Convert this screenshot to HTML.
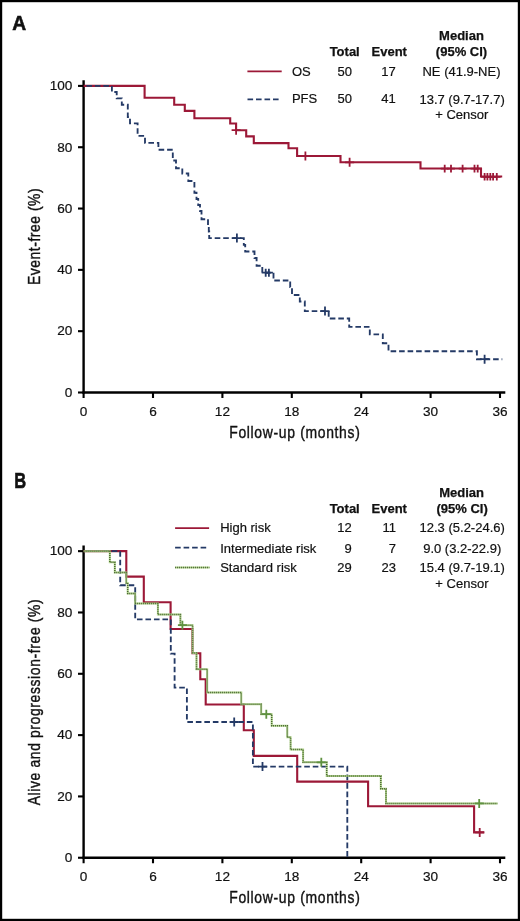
<!DOCTYPE html>
<html><head><meta charset="utf-8"><style>
html,body{margin:0;padding:0;background:#fff;}
svg{display:block;filter:blur(0.35px);}
text{font-family:"Liberation Sans",sans-serif;stroke:#111;stroke-width:0.2px;}
text[font-weight="bold"]{stroke-width:0.25px;}
text.ax{stroke-width:0.4px;}
text.pl{stroke-width:0.6px;}
</style></head><body>
<svg width="520" height="921" viewBox="0 0 520 921">
<rect width="520" height="921" fill="#fff"/>
<rect x="1.1" y="1.1" width="517.8" height="918.8" fill="none" stroke="#000" stroke-width="2.2"/>
<text class="pl" transform="matrix(0.9385 0 0 1 12.30 29.80)" x="0" y="0" font-size="20.5" font-weight="bold" fill="#111">A</text>
<text x="439.11" y="40.00" font-size="13" font-weight="bold" fill="#111" >Median</text>
<text x="435.86" y="55.80" font-size="13" font-weight="bold" fill="#111" >(95% CI)</text>
<text x="329.65" y="55.80" font-size="13" font-weight="bold" fill="#111" >Total</text>
<text x="371.50" y="55.80" font-size="13" font-weight="bold" fill="#111" >Event</text>
<line x1="247.40" y1="71.40" x2="281.70" y2="71.40" stroke="#9c1837" stroke-width="1.8" />
<line x1="247.50" y1="99.30" x2="279.50" y2="99.30" stroke="#243a66" stroke-width="1.7" stroke-dasharray="5.6 2.9"/>
<text x="291.90" y="75.70" font-size="13" font-weight="normal" fill="#111" >OS</text>
<text x="291.90" y="103.40" font-size="13" font-weight="normal" fill="#111" >PFS</text>
<text x="337.44" y="75.70" font-size="13" font-weight="normal" fill="#111" >50</text>
<text x="337.44" y="103.40" font-size="13" font-weight="normal" fill="#111" >50</text>
<text x="381.34" y="75.70" font-size="13" font-weight="normal" fill="#111" >17</text>
<text x="381.34" y="103.40" font-size="13" font-weight="normal" fill="#111" >41</text>
<text x="422.48" y="75.80" font-size="13" font-weight="normal" fill="#111" >NE (41.9-NE)</text>
<text x="419.46" y="103.80" font-size="13" font-weight="normal" fill="#111" >13.7 (9.7-17.7)</text>
<text x="435.20" y="118.70" font-size="13" font-weight="normal" fill="#111" >+ Censor</text>
<line x1="83.60" y1="80.20" x2="83.60" y2="393.60" stroke="#000" stroke-width="2.4" />
<line x1="82.50" y1="392.50" x2="505.30" y2="392.50" stroke="#000" stroke-width="2.4" />
<line x1="78.00" y1="392.50" x2="83.60" y2="392.50" stroke="#000" stroke-width="2.1" />
<text x="64.85" y="396.80" font-size="13.6" font-weight="normal" fill="#111" >0</text>
<line x1="78.00" y1="331.18" x2="83.60" y2="331.18" stroke="#000" stroke-width="2.1" />
<text x="57.27" y="335.48" font-size="13.6" font-weight="normal" fill="#111" >20</text>
<line x1="78.00" y1="269.86" x2="83.60" y2="269.86" stroke="#000" stroke-width="2.1" />
<text x="57.27" y="274.16" font-size="13.6" font-weight="normal" fill="#111" >40</text>
<line x1="78.00" y1="208.54" x2="83.60" y2="208.54" stroke="#000" stroke-width="2.1" />
<text x="57.27" y="212.84" font-size="13.6" font-weight="normal" fill="#111" >60</text>
<line x1="78.00" y1="147.22" x2="83.60" y2="147.22" stroke="#000" stroke-width="2.1" />
<text x="57.27" y="151.52" font-size="13.6" font-weight="normal" fill="#111" >80</text>
<line x1="78.00" y1="85.90" x2="83.60" y2="85.90" stroke="#000" stroke-width="2.1" />
<text x="49.72" y="90.20" font-size="13.6" font-weight="normal" fill="#111" >100</text>
<line x1="83.60" y1="392.50" x2="83.60" y2="398.00" stroke="#000" stroke-width="2.1" />
<text x="79.83" y="415.80" font-size="13.6" font-weight="normal" fill="#111" >0</text>
<line x1="153.00" y1="392.50" x2="153.00" y2="398.00" stroke="#000" stroke-width="2.1" />
<text x="149.23" y="415.80" font-size="13.6" font-weight="normal" fill="#111" >6</text>
<line x1="222.40" y1="392.50" x2="222.40" y2="398.00" stroke="#000" stroke-width="2.1" />
<text x="214.84" y="415.80" font-size="13.6" font-weight="normal" fill="#111" >12</text>
<line x1="291.80" y1="392.50" x2="291.80" y2="398.00" stroke="#000" stroke-width="2.1" />
<text x="284.24" y="415.80" font-size="13.6" font-weight="normal" fill="#111" >18</text>
<line x1="361.20" y1="392.50" x2="361.20" y2="398.00" stroke="#000" stroke-width="2.1" />
<text x="353.64" y="415.80" font-size="13.6" font-weight="normal" fill="#111" >24</text>
<line x1="430.60" y1="392.50" x2="430.60" y2="398.00" stroke="#000" stroke-width="2.1" />
<text x="423.04" y="415.80" font-size="13.6" font-weight="normal" fill="#111" >30</text>
<line x1="500.00" y1="392.50" x2="500.00" y2="398.00" stroke="#000" stroke-width="2.1" />
<text x="492.44" y="415.80" font-size="13.6" font-weight="normal" fill="#111" >36</text>
<text class="ax" transform="matrix(0.82 0 0 1 229.20 438.00)" x="0" y="0" font-size="17.0" letter-spacing="0.818" fill="#111">Follow-up (months)</text>
<g transform="translate(40.00,285.00) rotate(-90)"><text class="ax" transform="matrix(0.82 0 0 1 -0.00 0)" x="0" y="0" font-size="17.0" letter-spacing="0.640" fill="#111">Event-free (%)</text></g>
<path d="M83.60,85.90 H144.60 V97.80 H174.20 V104.70 H184.80 V110.90 H194.40 V118.20 H230.20 V123.50 H236.10 V130.20 H246.20 V136.40 H253.80 V143.10 H288.50 V148.30 H297.10 V156.00 H340.50 V162.30 H420.50 V168.50 H481.00 V176.50 H502.20" fill="none" stroke="#9c1837" stroke-width="2.1" stroke-linejoin="miter" stroke-linecap="butt" />
<path d="M83.60,85.90 H111.90 V92.00 H116.70 V98.30 H121.80 V104.70 H127.80 V117.00 H130.00 V123.40 H137.60 V135.80 H145.00 V142.90 H158.40 V149.70 H172.80 V160.50 H176.00 V168.20 H182.30 V173.50 H188.30 V181.00 H194.40 V192.70 H196.50 V199.00 H198.20 V205.00 H200.00 V211.00 H201.50 V219.20 H208.00 V225.50 H208.80 V231.50 H209.20 V238.10 H243.80 V244.80 H245.20 V251.50 H254.50 V258.00 H256.60 V265.70 H262.30 V272.70 H273.50 V280.50 H290.20 V287.00 H292.00 V295.00 H299.80 V301.50 H304.80 V311.10 H328.70 V318.50 H349.20 V326.90 H369.80 V334.30 H382.80 V343.20 H388.50 V351.20 H476.90 V359.20 H502.30" fill="none" stroke="#243a66" stroke-width="1.85" stroke-linejoin="miter" stroke-linecap="butt" stroke-dasharray="5.6 2.9" stroke-dashoffset="5.70"/>
<path d="M231.60,130.20 H240.60 M236.10,125.70 V134.70" stroke="#9c1837" stroke-width="1.8" fill="none"/>
<path d="M300.90,156.00 H309.90 M305.40,151.50 V160.50" stroke="#9c1837" stroke-width="1.8" fill="none"/>
<path d="M345.10,162.30 H354.10 M349.60,157.80 V166.80" stroke="#9c1837" stroke-width="1.8" fill="none"/>
<path d="M440.80,168.60 H448.60 M444.70,164.70 V172.50" stroke="#9c1837" stroke-width="1.8" fill="none"/>
<path d="M447.10,168.60 H454.90 M451.00,164.70 V172.50" stroke="#9c1837" stroke-width="1.8" fill="none"/>
<path d="M458.70,168.60 H466.50 M462.60,164.70 V172.50" stroke="#9c1837" stroke-width="1.8" fill="none"/>
<path d="M470.60,168.60 H478.40 M474.50,164.70 V172.50" stroke="#9c1837" stroke-width="1.8" fill="none"/>
<path d="M473.80,168.60 H481.60 M477.70,164.70 V172.50" stroke="#9c1837" stroke-width="1.8" fill="none"/>
<path d="M480.80,176.80 H488.40 M484.60,173.00 V180.60" stroke="#9c1837" stroke-width="1.8" fill="none"/>
<path d="M483.60,176.80 H491.20 M487.40,173.00 V180.60" stroke="#9c1837" stroke-width="1.8" fill="none"/>
<path d="M486.50,176.80 H494.10 M490.30,173.00 V180.60" stroke="#9c1837" stroke-width="1.8" fill="none"/>
<path d="M489.30,176.80 H496.90 M493.10,173.00 V180.60" stroke="#9c1837" stroke-width="1.8" fill="none"/>
<path d="M493.00,176.80 H500.60 M496.80,173.00 V180.60" stroke="#9c1837" stroke-width="1.8" fill="none"/>
<path d="M232.40,238.10 H241.40 M236.90,233.60 V242.60" stroke="#243a66" stroke-width="1.8" fill="none"/>
<path d="M261.70,272.70 H269.70 M265.70,268.70 V276.70" stroke="#243a66" stroke-width="1.8" fill="none"/>
<path d="M264.90,272.70 H272.90 M268.90,268.70 V276.70" stroke="#243a66" stroke-width="1.8" fill="none"/>
<path d="M320.50,311.10 H329.50 M325.00,306.60 V315.60" stroke="#243a66" stroke-width="1.8" fill="none"/>
<path d="M480.10,359.20 H489.10 M484.60,354.70 V363.70" stroke="#243a66" stroke-width="1.8" fill="none"/>
<text class="pl" transform="matrix(0.7661 0 0 1 14.30 487.70)" x="0" y="0" font-size="21.5" font-weight="bold" fill="#111">B</text>
<text x="439.21" y="497.30" font-size="13" font-weight="bold" fill="#111" >Median</text>
<text x="436.46" y="513.30" font-size="13" font-weight="bold" fill="#111" >(95% CI)</text>
<text x="329.65" y="513.30" font-size="13" font-weight="bold" fill="#111" >Total</text>
<text x="371.50" y="513.30" font-size="13" font-weight="bold" fill="#111" >Event</text>
<line x1="175.10" y1="528.20" x2="209.10" y2="528.20" stroke="#9c1837" stroke-width="1.8" />
<line x1="175.10" y1="547.70" x2="206.80" y2="547.70" stroke="#243a66" stroke-width="1.7" stroke-dasharray="5.6 2.9"/>
<line x1="175.10" y1="567.40" x2="209.50" y2="567.40" stroke="#b0d68a" stroke-width="2.0" />
<line x1="175.10" y1="567.40" x2="209.50" y2="567.40" stroke="#4d6438" stroke-width="1.5" stroke-dasharray="1 1"/>
<text x="220.20" y="532.40" font-size="13" font-weight="normal" fill="#111" >High risk</text>
<text x="337.24" y="532.40" font-size="13" font-weight="normal" fill="#111" >12</text>
<text x="382.51" y="532.40" font-size="13" font-weight="normal" fill="#111" >11</text>
<text x="419.56" y="532.40" font-size="13" font-weight="normal" fill="#111" >12.3 (5.2-24.6)</text>
<text x="220.20" y="552.60" font-size="13" font-weight="normal" fill="#111" >Intermediate risk</text>
<text x="344.49" y="552.60" font-size="13" font-weight="normal" fill="#111" >9</text>
<text x="388.79" y="552.60" font-size="13" font-weight="normal" fill="#111" >7</text>
<text x="423.18" y="552.60" font-size="13" font-weight="normal" fill="#111" >9.0 (3.2-22.9)</text>
<text x="220.20" y="571.90" font-size="13" font-weight="normal" fill="#111" >Standard risk</text>
<text x="337.24" y="571.90" font-size="13" font-weight="normal" fill="#111" >29</text>
<text x="381.54" y="571.90" font-size="13" font-weight="normal" fill="#111" >23</text>
<text x="419.56" y="571.90" font-size="13" font-weight="normal" fill="#111" >15.4 (9.7-19.1)</text>
<text x="435.35" y="587.70" font-size="13" font-weight="normal" fill="#111" >+ Censor</text>
<line x1="83.60" y1="545.45" x2="83.60" y2="858.85" stroke="#000" stroke-width="2.4" />
<line x1="82.50" y1="857.75" x2="505.30" y2="857.75" stroke="#000" stroke-width="2.4" />
<line x1="78.00" y1="857.75" x2="83.60" y2="857.75" stroke="#000" stroke-width="2.1" />
<text x="64.85" y="862.05" font-size="13.6" font-weight="normal" fill="#111" >0</text>
<line x1="78.00" y1="796.43" x2="83.60" y2="796.43" stroke="#000" stroke-width="2.1" />
<text x="57.27" y="800.73" font-size="13.6" font-weight="normal" fill="#111" >20</text>
<line x1="78.00" y1="735.11" x2="83.60" y2="735.11" stroke="#000" stroke-width="2.1" />
<text x="57.27" y="739.41" font-size="13.6" font-weight="normal" fill="#111" >40</text>
<line x1="78.00" y1="673.79" x2="83.60" y2="673.79" stroke="#000" stroke-width="2.1" />
<text x="57.27" y="678.09" font-size="13.6" font-weight="normal" fill="#111" >60</text>
<line x1="78.00" y1="612.47" x2="83.60" y2="612.47" stroke="#000" stroke-width="2.1" />
<text x="57.27" y="616.77" font-size="13.6" font-weight="normal" fill="#111" >80</text>
<line x1="78.00" y1="551.15" x2="83.60" y2="551.15" stroke="#000" stroke-width="2.1" />
<text x="49.72" y="555.45" font-size="13.6" font-weight="normal" fill="#111" >100</text>
<line x1="83.60" y1="857.75" x2="83.60" y2="863.25" stroke="#000" stroke-width="2.1" />
<text x="79.83" y="881.05" font-size="13.6" font-weight="normal" fill="#111" >0</text>
<line x1="153.00" y1="857.75" x2="153.00" y2="863.25" stroke="#000" stroke-width="2.1" />
<text x="149.23" y="881.05" font-size="13.6" font-weight="normal" fill="#111" >6</text>
<line x1="222.40" y1="857.75" x2="222.40" y2="863.25" stroke="#000" stroke-width="2.1" />
<text x="214.84" y="881.05" font-size="13.6" font-weight="normal" fill="#111" >12</text>
<line x1="291.80" y1="857.75" x2="291.80" y2="863.25" stroke="#000" stroke-width="2.1" />
<text x="284.24" y="881.05" font-size="13.6" font-weight="normal" fill="#111" >18</text>
<line x1="361.20" y1="857.75" x2="361.20" y2="863.25" stroke="#000" stroke-width="2.1" />
<text x="353.64" y="881.05" font-size="13.6" font-weight="normal" fill="#111" >24</text>
<line x1="430.60" y1="857.75" x2="430.60" y2="863.25" stroke="#000" stroke-width="2.1" />
<text x="423.04" y="881.05" font-size="13.6" font-weight="normal" fill="#111" >30</text>
<line x1="500.00" y1="857.75" x2="500.00" y2="863.25" stroke="#000" stroke-width="2.1" />
<text x="492.44" y="881.05" font-size="13.6" font-weight="normal" fill="#111" >36</text>
<text class="ax" transform="matrix(0.82 0 0 1 229.20 903.25)" x="0" y="0" font-size="17.0" letter-spacing="0.818" fill="#111">Follow-up (months)</text>
<g transform="translate(40.00,805.30) rotate(-90)"><text class="ax" transform="matrix(0.82 0 0 1 -0.00 0)" x="0" y="0" font-size="17.0" letter-spacing="0.749" fill="#111">Alive and progression-free (%)</text></g>
<path d="M83.60,551.15 H126.30 V576.60 H143.80 V602.20 H170.60 V629.00 H192.40 V653.20 H200.30 V679.30 H205.70 V704.50 H243.80 V730.30 H253.80 V755.90 H297.20 V781.60 H368.10 V806.30 H474.10 V832.40 H484.30" fill="none" stroke="#9c1837" stroke-width="2.1" stroke-linejoin="miter" stroke-linecap="butt" />
<path d="M83.60,551.15 H120.20 V585.20 H135.20 V619.40 H170.80 V653.60 H174.60 V687.60 H186.90 V722.00 H252.90 V766.60 H347.30 V857.75 H347.30" fill="none" stroke="#243a66" stroke-width="1.85" stroke-linejoin="miter" stroke-linecap="butt" stroke-dasharray="5.6 2.9" stroke-dashoffset="5.90"/>
<path d="M83.60,551.15 H109.80 V562.20 H114.80 V572.50 H126.30 V583.00 H127.70 V593.50 H135.20 V603.60 H157.90 V614.50 H180.40 V625.20 H192.60 V653.00 H196.50 V669.20 H207.20 V692.60 H241.30 V704.20 H261.20 V714.20 H271.70 V725.80 H287.30 V737.30 H290.60 V749.60 H303.10 V762.30 H326.70 V776.00 H380.80 V788.80 H386.00 V803.40 H497.60" fill="none" stroke="#b0d68a" stroke-width="2.0" stroke-linejoin="miter" stroke-linecap="butt" />
<path d="M83.60,551.15 H109.80 V562.20 H114.80 V572.50 H126.30 V583.00 H127.70 V593.50 H135.20 V603.60 H157.90 V614.50 H180.40 V625.20 H192.60 V653.00 H196.50 V669.20 H207.20 V692.60 H241.30 V704.20 H261.20 V714.20 H271.70 V725.80 H287.30 V737.30 H290.60 V749.60 H303.10 V762.30 H326.70 V776.00 H380.80 V788.80 H386.00 V803.40 H497.60" fill="none" stroke="#4d6438" stroke-width="1.5" stroke-linejoin="miter" stroke-linecap="butt" stroke-dasharray="1 1"/>
<path d="M229.70,722.00 H238.70 M234.20,717.50 V726.50" stroke="#243a66" stroke-width="1.8" fill="none"/>
<path d="M258.00,766.60 H267.00 M262.50,762.10 V771.10" stroke="#243a66" stroke-width="1.8" fill="none"/>
<path d="M177.90,625.20 H186.90 M182.40,620.70 V629.70" stroke="#5f9140" stroke-width="1.8" fill="none"/>
<path d="M261.80,714.20 H270.80 M266.30,709.70 V718.70" stroke="#5f9140" stroke-width="1.8" fill="none"/>
<path d="M316.80,762.30 H325.80 M321.30,757.80 V766.80" stroke="#5f9140" stroke-width="1.8" fill="none"/>
<path d="M474.70,803.40 H483.70 M479.20,798.90 V807.90" stroke="#5f9140" stroke-width="1.8" fill="none"/>
<path d="M475.20,832.40 H484.20 M479.70,827.90 V836.90" stroke="#9c1837" stroke-width="1.8" fill="none"/>
</svg></body></html>
